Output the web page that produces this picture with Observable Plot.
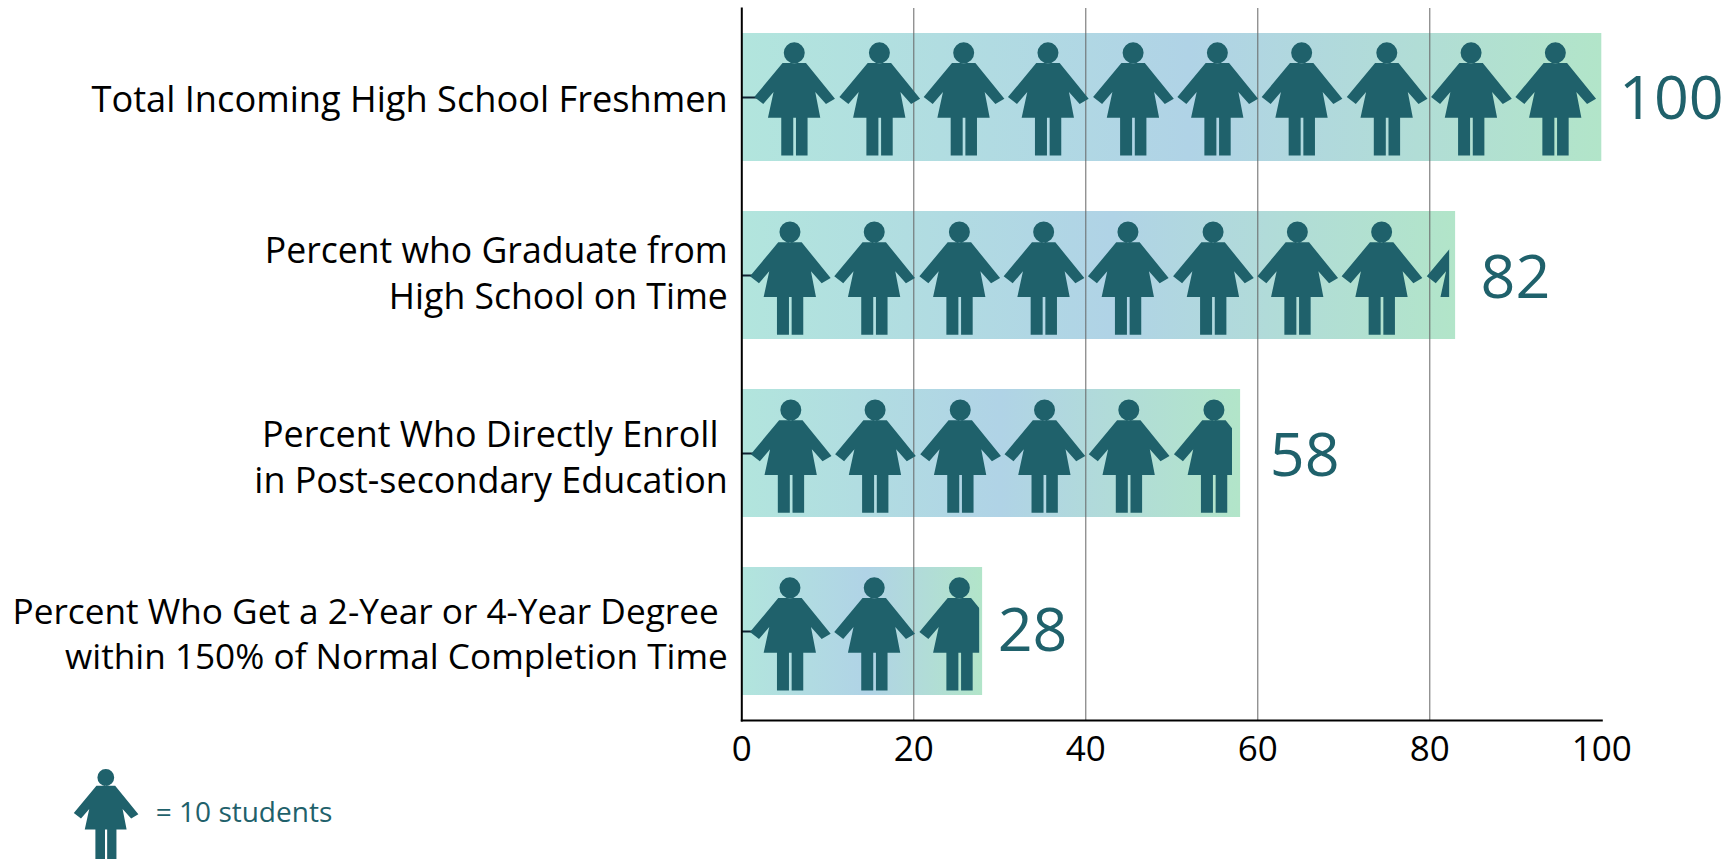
<!DOCTYPE html>
<html><head><meta charset="utf-8">
<script src="https://cdn.jsdelivr.net/npm/d3@7"></script>
<script src="https://cdn.jsdelivr.net/npm/@observablehq/plot@0.6"></script>
<style>html,body{margin:0;padding:0;background:#fff}svg{display:block}</style>
</head><body>
<div id="chart"></div>
<script>
const categories = [
  "Total Incoming High School Freshmen",
  "Percent who Graduate from\nHigh School on Time",
  "Percent Who Directly Enroll\u00a0\nin Post-secondary Education",
  "Percent Who Get a 2-Year or 4-Year Degree\u00a0\nwithin 150% of Normal Completion Time"
];
const barEnds = [100, 83, 58, 28];
const valueLabels = ["100", "82", "58", "28"];
const labelPositions = [102.0, 85.9, 61.4, 29.75];
const labelOffsets = [2, 3, 3, 0];
const categoryOffsets = [0, -4, 2, 0.5];
const categorySizes = [36.2, 35.6, 35.9, 35.2];
const iconClipEnds = [100, 82.25, 57, 27.6];
const iconPositions = [
  [6.1, 16.0, 25.8, 35.6, 45.5, 55.3, 65.1, 75.0, 84.8, 94.6],
  [5.6, 15.4, 25.3, 35.1, 44.9, 54.8, 64.6, 74.4, 84.3],
  [5.7, 15.5, 25.4, 35.2, 45.0, 54.9],
  [5.6, 15.4, 25.3]
];
const iconOffsets = [-44.7, -43.5, -43.5, -43.7];
const xTicks = [0, 20, 40, 60, 80, 100];
const gridTicks = [20, 40, 60, 80];
const teal = "#1f616b";
const font = "'Open Sans', sans-serif";

const person = {
  draw(c, size) {
    const k = Math.sqrt(size / Math.PI) / 10;
    const pts = [[-11.7,10.3],[-40,44.3],[-31,51.3],[-20.7,39.3],[-26.3,65],[-13,65],[-13,102.7],[-1,102.7],[-1,65],[1.7,65],[1.7,102.7],[13.3,102.7],[13.3,65],[26,65],[21,39.3],[31.7,51.3],[40.7,46],[11.7,10.3]];
    pts.forEach(([x, y], i) => i ? c.lineTo(x * k, y * k) : c.moveTo(x * k, y * k));
    c.closePath();
    c.moveTo(10.5 * k, 0);
    c.arc(0, 0, 10.5 * k, 0, 2 * Math.PI);
    c.closePath();
  }
};

const rows = categories.map((name, i) => ({name, end: barEnds[i], label: valueLabels[i], at: labelPositions[i], off: labelOffsets[i], catOff: categoryOffsets[i], catSize: categorySizes[i]}));

function clipTo(end, id) {
  return (index, scales, values, dims, ctx, next) => {
    const g = next(index, scales, values, dims, ctx);
    const doc = ctx.document;
    const cp = doc.createElementNS("http://www.w3.org/2000/svg", "clipPath");
    cp.setAttribute("id", id);
    const r = doc.createElementNS("http://www.w3.org/2000/svg", "rect");
    r.setAttribute("x", scales.x(0));
    r.setAttribute("y", -100);
    r.setAttribute("width", scales.x(end) - scales.x(0));
    r.setAttribute("height", dims.height + 200);
    cp.appendChild(r);
    g.appendChild(cp);
    g.setAttribute("clip-path", `url(#${id})`);
    return g;
  };
}

const gradient = () => {
  const s = d3.create("svg:defs");
  const g = s.append("linearGradient").attr("id", "barGrad");
  g.append("stop").attr("offset", "0%").attr("stop-color", "#b2e5dd");
  g.append("stop").attr("offset", "52%").attr("stop-color", "#b0d3e6");
  g.append("stop").attr("offset", "100%").attr("stop-color", "#b2e5c9");
  return s.node();
};

const plot = Plot.plot({
  width: 1735, height: 859,
  marginLeft: 741.3, marginRight: 133.7, marginTop: 8, marginBottom: 139,
  style: {fontFamily: font, background: "#fff", overflow: "visible"},
  x: {domain: [0, 100], axis: null},
  y: {domain: categories, paddingInner: 0.28, paddingOuter: 0.14, axis: null},
  marks: [
    gradient,
    Plot.barX(rows, {y: "name", x1: 0, x2: "end", fill: "url(#barGrad)"}),
    Plot.ruleY(categories, {y: d => d, x1: 0, x2: 2, stroke: "#123", strokeWidth: 2}),
    Plot.ruleX(gridTicks, {stroke: "#666", strokeWidth: 1}),
    ...categories.map((name, i) => Plot.dot(iconPositions[i], {
      x: d => d, y: () => name, r: 10, symbol: person, fill: teal, stroke: "none",
      dy: iconOffsets[i], render: clipTo(iconClipEnds[i], "clip" + i)
    })),
    Plot.frame({anchor: "left", stroke: "#000", strokeWidth: 2}),
    Plot.frame({anchor: "bottom", stroke: "#000", strokeWidth: 2}),
    Plot.axisX({ticks: xTicks, tickSize: 0, tickPadding: 16, fontSize: 35, label: null, color: "#000"}),
    ...rows.map(r => Plot.text([r], {x: 0, y: "name", text: "name", textAnchor: "end", dx: -14, dy: r.catOff, fontSize: r.catSize, lineHeight: 1.27, fill: "#000"})),
    ...rows.map(r => Plot.text([r], {x: "at", y: "name", text: "label", textAnchor: "start", fontSize: 61, fill: teal, dy: r.off})),
    Plot.dot([0], {frameAnchor: "top-left", dx: -636, dy: 769, r: 8, symbol: person, fill: teal, stroke: "none"}),
    Plot.text(["= 10 students"], {frameAnchor: "top-left", dx: -586, dy: 794, textAnchor: "start", fontSize: 28, fill: teal})
  ]
});
document.getElementById("chart").appendChild(plot);
</script>
</body></html>
